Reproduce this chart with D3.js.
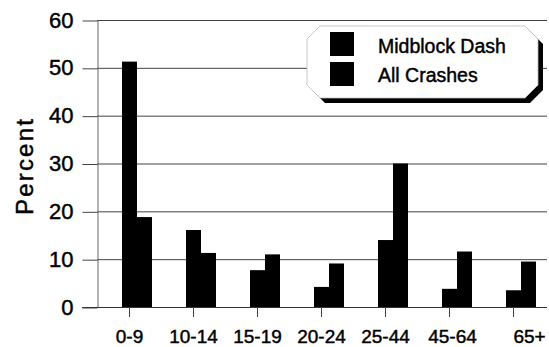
<!DOCTYPE html>
<html><head><meta charset="utf-8">
<script src="https://cdn.jsdelivr.net/npm/d3@7"></script>
<style>
html,body{margin:0;padding:0;background:#fff;}
svg{display:block;font-family:"Liberation Sans",Arial,Helvetica,sans-serif;}
</style></head>
<body><svg id="c" width="549" height="347"></svg>
<script>
const categories = ["0-9","10-14","15-19","20-24","25-44","45-64","65+"];
const seriesNames = ["Midblock Dash","All Crashes"];
const midblockDash = [51.3, 16.1, 7.7, 4.2, 14.0, 3.8, 3.5];
const allCrashes   = [18.8, 11.3, 11.0, 9.1, 30.0, 11.6, 9.5];
const yTicks = [0,10,20,30,40,50,60];
const yLabel = "Percent";

const svg = d3.select("#c");
const plotLeft = 97, plotRight = 547, plotTop = 20, plotBottom = 307;

const y = d3.scaleLinear().domain([0,60]).range([plotBottom, plotTop]);
const x = d3.scaleBand().domain(categories).range([122, 536]).paddingInner(0.53125).paddingOuter(0);
const xs = d3.scaleBand().domain(seriesNames).range([0, x.bandwidth()]);

function heavy(sel){ sel.attr("stroke", "#000").attr("stroke-width", 0.45).attr("paint-order","stroke"); }

// gridlines
svg.append("g").selectAll("line").data(yTicks.filter(d=>d>0)).join("line")
  .attr("x1", plotLeft).attr("x2", plotRight)
  .attr("y1", d=>y(d)+0.5).attr("y2", d=>y(d)+0.5)
  .attr("stroke", "#444").attr("stroke-width", 1);

// y axis
const yAxis = svg.append("g").attr("transform", `translate(${plotLeft+0.5},0)`)
  .call(d3.axisLeft(y).tickValues(yTicks).tickSize(15).tickSizeOuter(0).tickPadding(9));
yAxis.select(".domain").attr("stroke", "#666");
yAxis.selectAll(".tick line").attr("stroke", "#444").attr("transform","translate(0,0.5)");
yAxis.selectAll("text").attr("font-size", 22).attr("fill", "#000")
  .attr("font-family", '"Liberation Sans",Arial,sans-serif').call(heavy);

// bars
const rows = categories.map((c,i)=>({cat:c, vals:[midblockDash[i], allCrashes[i]]}));
const grp = svg.append("g").selectAll("g").data(rows).join("g")
  .attr("transform", d=>`translate(${x(d.cat)},0)`);
grp.selectAll("rect").data(d=>d.vals.map((v,j)=>({s:seriesNames[j], v}))).join("rect")
  .attr("x", d=>xs(d.s)).attr("width", xs.bandwidth())
  .attr("y", d=>y(d.v)).attr("height", d=>y(0)-y(d.v))
  .attr("fill", "#000");

// baseline
svg.append("line").attr("x1", 82).attr("x2", plotRight)
  .attr("y1", y(0)+0.5).attr("y2", y(0)+0.5).attr("stroke", "#333").attr("stroke-width", 1.2);

// x axis
const xAxis = svg.append("g").attr("transform", `translate(${-x.bandwidth()/4},${plotBottom})`)
  .call(d3.axisBottom(x).tickSize(10).tickSizeOuter(0).tickPadding(13));
xAxis.select(".domain").remove();
xAxis.selectAll(".tick line").attr("stroke", "#444");
xAxis.selectAll("text").attr("font-size", 19).attr("fill", "#000")
  .attr("font-family", '"Liberation Sans",Arial,sans-serif').call(heavy)
  .attr("dx", d => d === "65+" ? 16 : (d === "45-64" ? 3 : 0));

// y label
svg.append("text").attr("transform", "translate(33,166) rotate(-90)")
  .attr("text-anchor", "middle").attr("font-size", 24).attr("letter-spacing", 2.2)
  .attr("fill", "#000").call(heavy).text(yLabel);

// legend
const lx0 = 307, lx1 = 538, ly0 = 26, ly1 = 98, c = 13;
const oct = [[lx0+c,ly0],[lx1-c,ly0],[lx1,ly0+c],[lx1,ly1-c],[lx1-c,ly1],[lx0+c,ly1],[lx0,ly1-c],[lx0,ly0+c]];
const lg = svg.append("g");
lg.append("polygon").attr("points", oct.map(p=>[p[0]+5,p[1]+5].join(",")).join(" ")).attr("fill", "#000");
lg.append("polygon").attr("points", oct.map(p=>p.join(",")).join(" "))
  .attr("fill", "#fff").attr("stroke", "#bbb").attr("stroke-width", 0.8);
seriesNames.forEach((s,i)=>{
  lg.append("rect").attr("x", 330).attr("y", 32 + i*30).attr("width", 24).attr("height", 24).attr("fill", "#000");
  lg.append("text").attr("x", 378).attr("y", 53 + i*29).attr("font-size", 19.5).attr("fill", "#000").call(heavy).text(s);
});
</script></body></html>
